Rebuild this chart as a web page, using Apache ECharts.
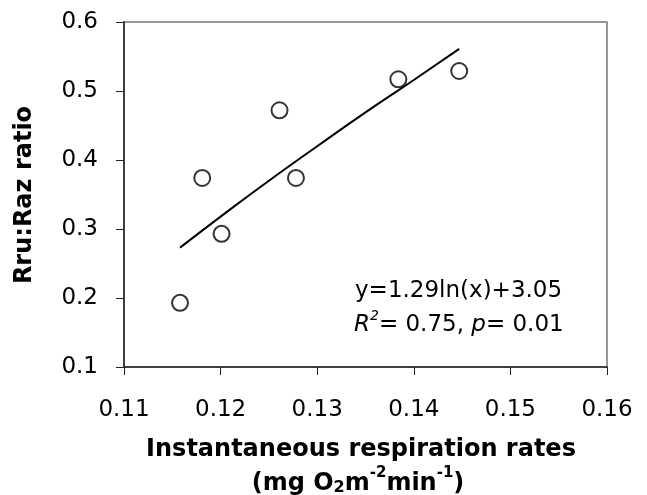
<!DOCTYPE html>
<html><head><meta charset="utf-8">
<script src="https://cdn.jsdelivr.net/npm/echarts@6/dist/echarts.min.js"></script>
<style>html,body{margin:0;padding:0;background:#fff}#c{width:647px;height:495px}</style>
</head><body><div id="c"></div>
<script>
// Observed data
var respRate = [0.1158, 0.1181, 0.1201, 0.1261, 0.1278, 0.1384, 0.1447];
var ruRatio  = [0.193, 0.374, 0.293, 0.472, 0.374, 0.517, 0.529];
// Fitted logarithmic trend line
var trendX = [0.1158, 0.120, 0.125, 0.130, 0.135, 0.140, 0.1447];
var trendY = [0.273, 0.318, 0.370, 0.420, 0.469, 0.516, 0.561];
var xTicks = {min: 0.11, max: 0.16, step: 0.01};
var yTicks = {min: 0.1, max: 0.6, step: 0.1};

var FONT = '"DejaVu Sans", Verdana, sans-serif';
var chart = echarts.init(document.getElementById('c'), null, {renderer: 'canvas'});
var pts = respRate.map(function (x, i) { return [x, ruRatio[i]]; });
var trend = trendX.map(function (x, i) { return [x, trendY[i]]; });

chart.setOption({
  animation: false,
  backgroundColor: '#fff',
  grid: {left: 124, top: 22, right: 40, bottom: 128, show: true, borderColor: '#777', borderWidth: 1.5, containLabel: false},
  xAxis: {
    type: 'value', min: xTicks.min, max: xTicks.max, interval: xTicks.step,
    axisLine: {show: true, onZero: false, lineStyle: {color: '#222', width: 1.5}},
    axisTick: {show: true, inside: false, length: 8, lineStyle: {color: '#222', width: 1}},
    splitLine: {show: false},
    axisLabel: {margin: 32, color: '#000', fontFamily: FONT, fontSize: 23,
      formatter: function (v) { return v.toFixed(2); }}
  },
  yAxis: {
    type: 'value', min: yTicks.min, max: yTicks.max, interval: yTicks.step,
    axisLine: {show: true, onZero: false, lineStyle: {color: '#222', width: 1.5}},
    axisTick: {show: true, inside: false, length: 8, lineStyle: {color: '#222', width: 1}},
    splitLine: {show: false},
    axisLabel: {margin: 26, color: '#000', fontFamily: FONT, fontSize: 23,
      formatter: function (v) { return v.toFixed(1); }}
  },
  series: [
    {type: 'scatter', data: pts, symbol: 'circle', symbolSize: 16, z: 2,
      itemStyle: {color: '#fff', borderColor: '#000', borderWidth: 2}},
    {type: 'line', data: trend, showSymbol: false, smooth: true, z: 3,
      lineStyle: {color: '#000', width: 2}}
  ],
  graphic: [
    {type: 'text', x: 25, y: 195, rotation: Math.PI / 2,
      style: {text: 'Rru:Raz ratio', fontFamily: FONT, fontWeight: 'bold', fontSize: 24,
        fill: '#000', textAlign: 'center', textVerticalAlign: 'middle'}},
    {type: 'text', x: 361, y: 450,
      style: {text: 'Instantaneous respiration rates', fontFamily: FONT, fontWeight: 'bold', fontSize: 24,
        fill: '#000', textAlign: 'center', textVerticalAlign: 'middle'}},
    {type: 'text', x: 358, y: 481,
      style: {text: '{b|(mg O}{sub|2}{b|m}{sup|-2}{b|min}{sup|-1}{b|)}',
        fill: '#000', textAlign: 'center', textVerticalAlign: 'middle',
        rich: {
          b: {fontFamily: FONT, fontWeight: 'bold', fontSize: 24, lineHeight: 30, fill: '#000', verticalAlign: 'bottom'},
          sub: {fontFamily: FONT, fontWeight: 'bold', fontSize: 16, lineHeight: 16, fill: '#000', verticalAlign: 'bottom', padding: [0, 0, 0, 0]},
          sup: {fontFamily: FONT, fontWeight: 'bold', fontSize: 15, lineHeight: 15, fill: '#000', verticalAlign: 'top'}
        }}},
    {type: 'text', x: 355, y: 291,
      style: {text: 'y=1.29ln(x)+3.05', fontFamily: FONT, fontSize: 23, fill: '#000',
        textAlign: 'left', textVerticalAlign: 'middle'}},
    {type: 'text', x: 354, y: 323,
      style: {text: '{i|R}{s|2}{n|= 0.75, }{i|p}{n|= 0.01}',
        textAlign: 'left', textVerticalAlign: 'middle', fill: '#000',
        rich: {
          n: {fontFamily: FONT, fontSize: 23, lineHeight: 28, fill: '#000', verticalAlign: 'bottom'},
          i: {fontFamily: FONT, fontSize: 23, fontStyle: 'italic', lineHeight: 28, fill: '#000', verticalAlign: 'bottom'},
          s: {fontFamily: FONT, fontSize: 14, fontStyle: 'italic', lineHeight: 14, fill: '#000', verticalAlign: 'top'}
        }}}
  ]
});
</script></body></html>
